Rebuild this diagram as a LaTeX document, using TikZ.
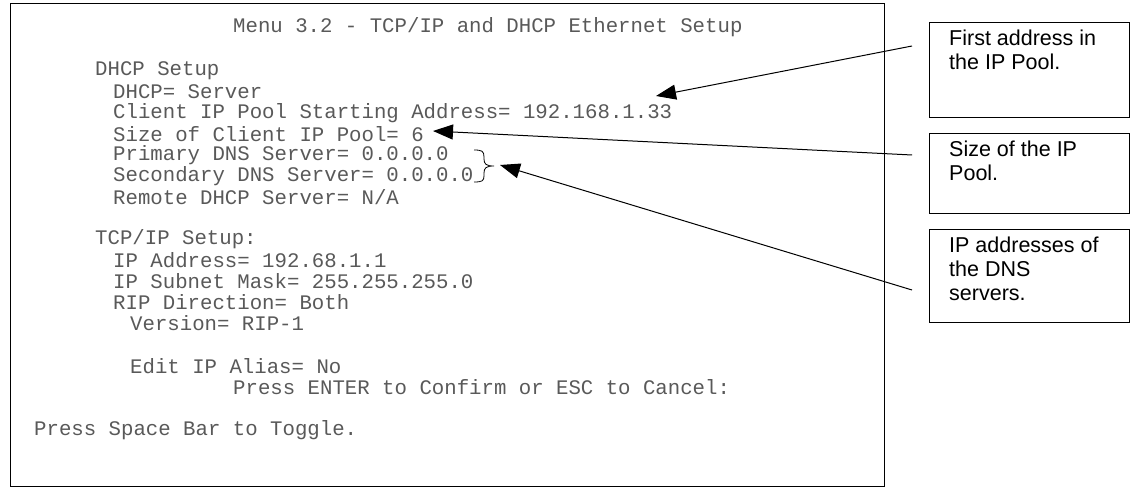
\documentclass[tikz,border=0pt]{standalone}
\usepackage{fontspec}
\setmainfont{Liberation Sans}
\setmonofont{Liberation Mono}
\usetikzlibrary{arrows.meta}
\begin{document}
\begin{tikzpicture}[x=1pt,y=-1pt,
  mono/.style={anchor=west,inner sep=0pt,font=\ttfamily\fontsize{20.7}{20}\selectfont,text=black!65},
  lbl/.style={draw,line width=1pt,anchor=north west,minimum width=200pt,inner sep=0pt},
  lbltext/.style={anchor=north west,align=left,font=\fontsize{21.5}{24}\selectfont,inner sep=0pt},
  arr/.style={line width=1pt,-{Triangle[length=20pt,width=15pt]}}]
\useasboundingbox (0,0) rectangle (1134,489);
\draw[line width=1pt] (10,4) rectangle (884,486);
\node[mono] (t0) at (233,27) {Menu 3.2 - TCP/IP and DHCP Ethernet Setup};
\node[mono] (t1) at (95,71) {DHCP Setup};
\node[mono] (t2) at (113,92) {DHCP= Server};
\node[mono] (t3) at (113,113) {Client IP Pool Starting Address= 192.168.1.33};
\node[mono] (t4) at (113,134) {Size of Client IP Pool= 6};
\node[mono] (t5) at (113,155) {Primary DNS Server= 0.0.0.0};
\node[mono] (t6) at (113,176) {Secondary DNS Server= 0.0.0.0};
\node[mono] (t7) at (113,197) {Remote DHCP Server= N/A};
\node[mono] (t8) at (95,239) {TCP/IP Setup:};
\node[mono] (t9) at (113,260) {IP Address= 192.68.1.1};
\node[mono] (t10) at (113,281) {IP Subnet Mask= 255.255.255.0};
\node[mono] (t11) at (113,302) {RIP Direction= Both};
\node[mono] (t12) at (130,323) {Version= RIP-1};
\node[mono] (t13) at (130,366) {Edit IP Alias= No};
\node[mono] (t14) at (233,387) {Press ENTER to Confirm or ESC to Cancel:};
\node[mono] (t15) at (34,430) {Press Space Bar to Toggle.};
% brace
\draw[line width=0.8pt] (474,150) .. controls (482,150) and (484,151) .. (484,157) -- (484,159) .. controls (484,164) and (486,166) .. (494,166) .. controls (486,166) and (484,168) .. (484,173) -- (484,176) .. controls (484,181) and (482,182) .. (474,182);
% label boxes
\node[lbl,minimum height=95pt] (l1) at (929,22) {};
\node[lbltext] at (949,30) {First address in\\the IP Pool.};
\node[lbl,minimum height=80pt] (l2) at (929,133) {};
\node[lbltext] at (949,141) {Size of the IP\\Pool.};
\node[lbl,minimum height=93pt] (l3) at (929,229) {};
\node[lbltext] at (949,237) {IP addresses of\\the DNS\\servers.};
\coordinate (s1) at (912,46);
\coordinate (s2) at (912,155);
\coordinate (s3) at (912,290);
\coordinate (e1) at (656,96);
\coordinate (e2) at (433,131);
\coordinate (e3) at (500,165);
\draw[arr] (s1) -- (e1);
\draw[arr] (s2) -- (e2);
\draw[arr] (s3) -- (e3);
\end{tikzpicture}
\end{document}
